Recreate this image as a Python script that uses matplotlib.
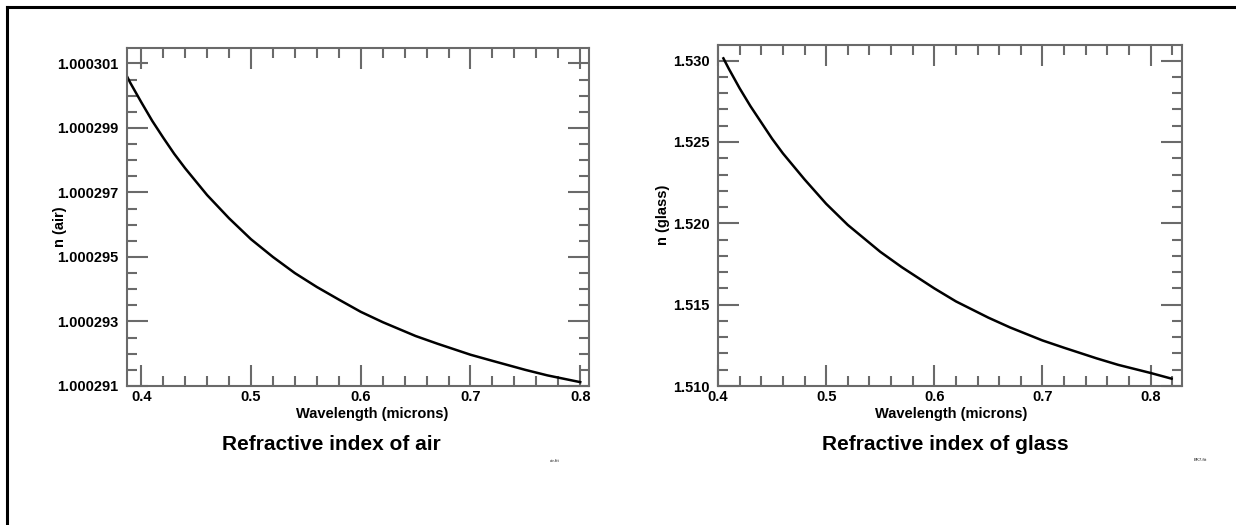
import matplotlib.pyplot as plt
from matplotlib.lines import Line2D
from matplotlib.ticker import MultipleLocator, FixedLocator, FormatStrFormatter

plt.rcParams['font.family'] = ['Liberation Sans', 'DejaVu Sans']
plt.rcParams['font.weight'] = 'bold'

# air: wavelength (microns) vs refractive index
air_wl = [0.387, 0.39, 0.40, 0.41, 0.42, 0.43, 0.44, 0.46, 0.48, 0.50, 0.52, 0.54,
          0.56, 0.58, 0.60, 0.62, 0.65, 0.67, 0.70, 0.72, 0.75, 0.77, 0.80]
air_n = [1.0003006, 1.0003004, 1.0002998, 1.00029922, 1.0002987, 1.0002982, 1.00029775,
         1.00029692, 1.0002962, 1.00029555, 1.000295, 1.0002945, 1.00029407, 1.00029368,
         1.0002933, 1.00029298, 1.00029255, 1.00029231, 1.00029197, 1.00029178,
         1.0002915, 1.00029133, 1.00029112]
air_yticks = [1.000291, 1.000293, 1.000295, 1.000297, 1.000299, 1.000301]

# glass
glass_wl = [0.405, 0.41, 0.42, 0.43, 0.44, 0.45, 0.46, 0.48, 0.50, 0.52, 0.55, 0.57,
            0.60, 0.62, 0.65, 0.67, 0.70, 0.72, 0.75, 0.77, 0.80, 0.8194]
glass_n = [1.53014, 1.5295, 1.5283, 1.5272, 1.5262, 1.5252, 1.5243, 1.5227, 1.5212,
           1.5199, 1.51825, 1.5173, 1.5160, 1.5152, 1.5142, 1.5136, 1.5128, 1.51235,
           1.5117, 1.5113, 1.5108, 1.51045]
glass_yticks = [1.510, 1.515, 1.520, 1.525, 1.530]

fig = plt.figure(figsize=(12.36, 5.25), dpi=100)

# frame lines on top and left of the page
fig.add_artist(Line2D([6.5 / 1236, 6.5 / 1236], [0, 1 - 7 / 525], transform=fig.transFigure, color='black', lw=2.2))
fig.add_artist(Line2D([6.5 / 1236, 1], [1 - 7 / 525, 1 - 7 / 525], transform=fig.transFigure, color='black', lw=2.2))


def style(ax, yticks, yminor, yfmt):
    for s in ax.spines.values():
        s.set_color('#6a6a6a')
        s.set_linewidth(1.5)
    ax.xaxis.set_major_locator(MultipleLocator(0.1))
    ax.xaxis.set_minor_locator(MultipleLocator(0.02))
    ax.yaxis.set_major_locator(FixedLocator(yticks))
    ax.yaxis.set_minor_locator(MultipleLocator(yminor))
    ax.yaxis.set_major_formatter(FormatStrFormatter(yfmt))
    ax.xaxis.set_major_formatter(FormatStrFormatter('%.1f'))
    ax.tick_params(which='both', direction='in', top=True, right=True, color='#6a6a6a')
    ax.tick_params(which='major', length=15, width=1.5, labelsize=10.5)
    ax.tick_params(axis='x', which='major', pad=3)
    ax.tick_params(axis='y', which='major', pad=6)
    ax.tick_params(which='minor', length=7, width=1.5)


ax1 = fig.add_axes([127 / 1236, 1 - 386 / 525, 462 / 1236, 338 / 525])
ax1.plot(air_wl, air_n, color='black', lw=1.8)
ax1.set_xlim(0.387, 0.808)
ax1.set_ylim(1.00029099999, 1.00030148)
style(ax1, air_yticks, 0.5e-6, '%.6f')

ax2 = fig.add_axes([718 / 1236, 1 - 386 / 525, 464 / 1236, 341 / 525])
ax2.plot(glass_wl, glass_n, color='black', lw=1.8)
ax2.set_xlim(0.40, 0.829)
ax2.set_ylim(1.51, 1.53096)
style(ax2, glass_yticks, 0.001, '%.3f')

fig.text(60 / 1236, 1 - 227 / 525, 'n (air)', rotation=90, ha='center', va='center', fontsize=10.5, fontweight='bold')
fig.text(663 / 1236, 1 - 215 / 525, 'n (glass)', rotation=90, ha='center', va='center', fontsize=10.5, fontweight='bold')

fig.text(372 / 1236, 1 - 414 / 525, 'Wavelength (microns)', ha='center', va='center', fontsize=10.5, fontweight='bold')
fig.text(951 / 1236, 1 - 414 / 525, 'Wavelength (microns)', ha='center', va='center', fontsize=10.5, fontweight='bold')

fig.text(331 / 1236, 1 - 444 / 525, 'Refractive index of air', ha='center', va='center', fontsize=15, fontweight='bold')
fig.text(945 / 1236, 1 - 444 / 525, 'Refractive index of glass', ha='center', va='center', fontsize=15, fontweight='bold')

# tiny file tags under each panel
fig.text(555 / 1236, 1 - 461 / 525, 'air.fit', ha='center', va='center', fontsize=3, color='#555555')
fig.text(1200 / 1236, 1 - 460 / 525, 'BK7.fit', ha='center', va='center', fontsize=3, color='#555555')

fig.savefig('out.png', dpi=100)
